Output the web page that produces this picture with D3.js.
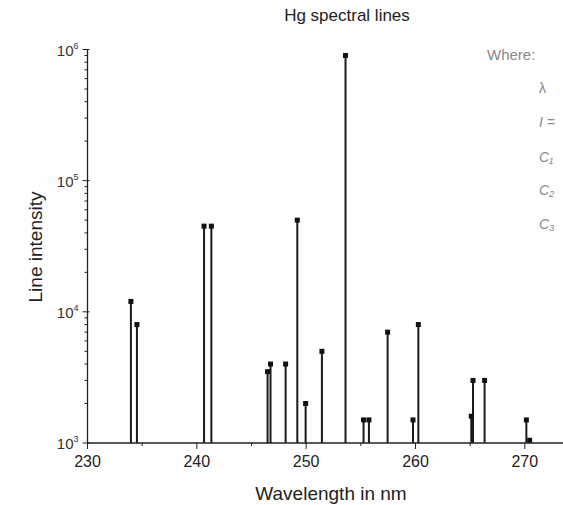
<!DOCTYPE html>
<html><head><meta charset="utf-8">
<script src="https://cdn.jsdelivr.net/npm/d3@7"></script>
<style>body{margin:0;background:#fff;overflow:hidden}svg{display:block;font-family:"Liberation Sans",Arial,sans-serif}</style>
</head><body>
<script>
const wavelengths = [233.97, 234.52, 240.66, 241.33, 246.47, 246.74, 248.12, 249.19, 249.95, 251.44, 253.60, 255.25, 255.74, 257.45, 259.77, 260.26, 265.10, 265.26, 266.32, 270.14, 270.44];
const intensities = [12000, 8000, 45000, 45000, 3500, 4000, 4000, 50000, 2000, 5000, 900000, 1500, 1500, 7000, 1500, 8000, 1600, 3000, 3000, 1500, 1050];
const xTicks = [230, 240, 250, 260, 270];
const yTicks = [1e3, 1e4, 1e5, 1e6];
const yTickLabels = ["3", "4", "5", "6"];
const legendLines = ["λ", "I =", "C₁", "C₂", "C₃"];

const W = 563, H = 505;
const svg = d3.select("body").append("svg").attr("width", W).attr("height", H);

const x = d3.scaleLinear().domain([230, 275]).range([87.5, 579.5]);
const y = d3.scaleLog().domain([1e3, 1e6]).range([443, 49.5]);
const data = wavelengths.map((w, i) => ({w, v: intensities[i]}));

// title
svg.append("text").attr("x", 347).attr("y", 21).attr("text-anchor", "middle")
  .attr("font-size", 17).attr("fill", "#222").text("Hg spectral lines");

// legend text (cut off at right)
svg.append("text").attr("x", 487).attr("y", 60).attr("font-size", 15).attr("fill", "#8a8a8a").text("Where:");
const legendY = [88, 122, 157, 190, 224];
legendLines.forEach((t, i) => {
  svg.append("text").attr("x", 539).attr("y", legendY[i] + 5).attr("font-size", 14)
    .attr("font-style", i > 0 ? "italic" : "normal").attr("fill", "#8a8a8a").text(t);
});

// stems
svg.append("g").selectAll("line").data(data).join("line")
  .attr("x1", d => x(d.w)).attr("x2", d => x(d.w))
  .attr("y1", y(1e3)).attr("y2", d => y(d.v))
  .attr("stroke", "#1a1a1a").attr("stroke-width", 2);
// markers
svg.append("g").selectAll("rect").data(data).join("rect")
  .attr("x", d => x(d.w) - 2.5).attr("y", d => y(d.v) - 2.5)
  .attr("width", 5).attr("height", 5).attr("fill", "#111");

// x axis
const xAxis = svg.append("g").attr("transform", `translate(0,${y(1e3)})`);
xAxis.append("line").attr("x1", x(230)).attr("x2", W).attr("stroke", "#222").attr("stroke-width", 1.3);
const xMinor = d3.range(235, 275, 10);
xAxis.selectAll("line.mj").data(xTicks).join("line").attr("class", "mj")
  .attr("x1", d => x(d)).attr("x2", d => x(d)).attr("y1", 0).attr("y2", 6).attr("stroke", "#222");
xAxis.selectAll("line.mn").data(xMinor).join("line").attr("class", "mn")
  .attr("x1", d => x(d)).attr("x2", d => x(d)).attr("y1", 0).attr("y2", 3).attr("stroke", "#222");
xAxis.selectAll("text").data(xTicks).join("text")
  .attr("x", d => x(d)).attr("y", 24).attr("text-anchor", "middle")
  .attr("font-size", 16).attr("fill", "#222").text(d => d);

// y axis
const yAxis = svg.append("g").attr("transform", `translate(${x(230)},0)`);
yAxis.append("line").attr("y1", y(1e3)).attr("y2", y(1e6)).attr("stroke", "#222").attr("stroke-width", 1.3);
const yMinor = [];
[1e3, 1e4, 1e5].forEach(b => { for (let k = 2; k <= 9; k++) yMinor.push(b * k); });
yAxis.selectAll("line.mj").data(yTicks).join("line").attr("class", "mj")
  .attr("x1", -5).attr("x2", 2).attr("y1", d => y(d)).attr("y2", d => y(d)).attr("stroke", "#222");
yAxis.selectAll("line.mn").data(yMinor).join("line").attr("class", "mn")
  .attr("x1", -3).attr("x2", 0).attr("y1", d => y(d)).attr("y2", d => y(d)).attr("stroke", "#222");
const yl = yAxis.selectAll("text").data(yTicks).join("text")
  .attr("x", -9).attr("y", d => y(d) + 6).attr("text-anchor", "end")
  .attr("font-size", 15).attr("fill", "#333");
yl.append("tspan").text("10");
yl.append("tspan").attr("dy", -7).attr("font-size", 9).text((d, i) => yTickLabels[i]);

// axis titles
svg.append("text").attr("x", 331).attr("y", 500).attr("text-anchor", "middle")
  .attr("font-size", 19).attr("fill", "#222").text("Wavelength in nm");
svg.append("text").attr("transform", "translate(42,247) rotate(-90)").attr("text-anchor", "middle")
  .attr("font-size", 19).attr("fill", "#222").text("Line intensity");
</script>
</body></html>
